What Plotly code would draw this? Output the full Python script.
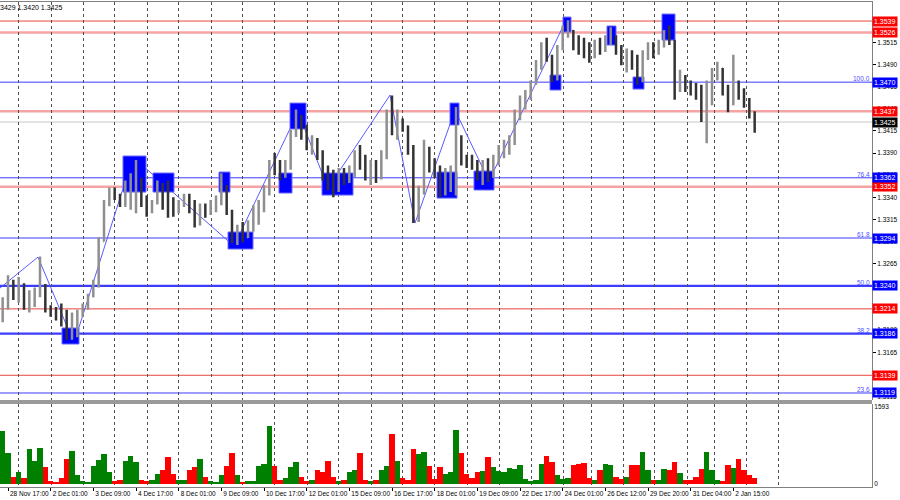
import plotly.graph_objects as go

# ---------------- data (4-hour candles, x = hourly bar index) ----------------
opens = [1.3215, 1.3222, 1.3245, 1.3230, 1.3240, 1.3220, 1.3228, 1.3232, 1.3240, 1.3215,
         1.3210, 1.3205, 1.3200, 1.3190, 1.3195, 1.3208, 1.3215, 1.3228, 1.3243, 1.3290,
         1.3332, 1.3345, 1.3340, 1.3335, 1.3352, 1.3355, 1.3360, 1.3340, 1.3325, 1.3333,
         1.3352, 1.3340, 1.3330, 1.3325, 1.3333, 1.3338, 1.3330, 1.3315, 1.3325, 1.3322,
         1.3330, 1.3335, 1.3345, 1.3322, 1.3295, 1.3300, 1.3295, 1.3310, 1.3320, 1.3330,
         1.3348, 1.3375, 1.3370, 1.3365, 1.3375, 1.3410, 1.3425, 1.3415, 1.3400, 1.3405,
         1.3390, 1.3365, 1.3355, 1.3350, 1.3360, 1.3358, 1.3365, 1.3385, 1.3380, 1.3365,
         1.3370, 1.3362, 1.3385, 1.3430, 1.3420, 1.3425, 1.3420, 1.3395, 1.3320, 1.3345,
         1.3395, 1.3375, 1.3368, 1.3355, 1.3360, 1.3365, 1.3395, 1.3385, 1.3380, 1.3378,
         1.3365, 1.3370, 1.3365, 1.3380, 1.3390, 1.3398, 1.3405, 1.3430, 1.3450, 1.3455,
         1.3468, 1.3488, 1.3505, 1.3498, 1.3480, 1.3508, 1.3525, 1.3528, 1.3515, 1.3510,
         1.3505, 1.3498, 1.3510, 1.3508, 1.3518, 1.3520, 1.3505, 1.3495, 1.3500, 1.3490,
         1.3480, 1.3502, 1.3510, 1.3505, 1.3512, 1.3522, 1.3515, 1.3465, 1.3470, 1.3465,
         1.3462, 1.3455, 1.3440, 1.3445, 1.3480, 1.3485, 1.3460, 1.3445, 1.3470, 1.3460,
         1.3448, 1.3435]
highs = [1.3227, 1.3252, 1.3247, 1.3250, 1.3243, 1.3235, 1.3238, 1.3273, 1.3242, 1.3218,
         1.3216, 1.3220, 1.3213, 1.3210, 1.3213, 1.3220, 1.3231, 1.3247, 1.3295, 1.3337,
         1.3351, 1.3351, 1.3344, 1.3359, 1.3367, 1.3382, 1.3362, 1.3342, 1.3337, 1.3359,
         1.3356, 1.3359, 1.3340, 1.3337, 1.3344, 1.3344, 1.3337, 1.3333, 1.3333, 1.3337,
         1.3342, 1.3367, 1.3354, 1.3326, 1.3309, 1.3312, 1.3314, 1.3331, 1.3337, 1.3354,
         1.3382, 1.3390, 1.3382, 1.3382, 1.3416, 1.3439, 1.3433, 1.3422, 1.3410, 1.3407,
         1.3393, 1.3376, 1.3371, 1.3373, 1.3373, 1.3376, 1.3393, 1.3399, 1.3388, 1.3382,
         1.3382, 1.3393, 1.3439, 1.3455, 1.3439, 1.3429, 1.3421, 1.3399, 1.3353, 1.3405,
         1.3397, 1.3384, 1.3376, 1.3373, 1.3376, 1.3442, 1.3410, 1.3388, 1.3388, 1.3382,
         1.3382, 1.3384, 1.3388, 1.3399, 1.3405, 1.3410, 1.3439, 1.3455, 1.3461, 1.3472,
         1.3495, 1.3515, 1.3520, 1.3501, 1.3512, 1.3534, 1.3540, 1.3529, 1.3523, 1.3520,
         1.3515, 1.3518, 1.3520, 1.3523, 1.3532, 1.3523, 1.3512, 1.3508, 1.3506, 1.3501,
         1.3506, 1.3515, 1.3515, 1.3518, 1.3529, 1.3534, 1.3518, 1.3484, 1.3478, 1.3472,
         1.3469, 1.3467, 1.3472, 1.3486, 1.3493, 1.3486, 1.3467, 1.3501, 1.3472, 1.3463,
         1.3452, 1.3437]
lows = [1.3199, 1.3213, 1.3224, 1.3221, 1.3213, 1.3210, 1.3216, 1.3227, 1.3210, 1.3205,
        1.3201, 1.3194, 1.3179, 1.3179, 1.3182, 1.3205, 1.3213, 1.3227, 1.3238, 1.3290,
        1.3330, 1.3337, 1.3329, 1.3329, 1.3326, 1.3322, 1.3329, 1.3318, 1.3322, 1.3332,
        1.3326, 1.3317, 1.3318, 1.3322, 1.3329, 1.3322, 1.3306, 1.3308, 1.3317, 1.3320,
        1.3323, 1.3331, 1.3320, 1.3288, 1.3286, 1.3289, 1.3294, 1.3301, 1.3309, 1.3323,
        1.3342, 1.3365, 1.3359, 1.3362, 1.3371, 1.3408, 1.3405, 1.3393, 1.3388, 1.3382,
        1.3359, 1.3348, 1.3340, 1.3346, 1.3354, 1.3356, 1.3363, 1.3371, 1.3359, 1.3354,
        1.3356, 1.3360, 1.3383, 1.3410, 1.3405, 1.3414, 1.3388, 1.3311, 1.3312, 1.3343,
        1.3368, 1.3362, 1.3340, 1.3342, 1.3346, 1.3342, 1.3376, 1.3373, 1.3371, 1.3359,
        1.3354, 1.3357, 1.3362, 1.3376, 1.3384, 1.3388, 1.3399, 1.3427, 1.3439, 1.3450,
        1.3467, 1.3484, 1.3493, 1.3470, 1.3472, 1.3506, 1.3520, 1.3506, 1.3501, 1.3497,
        1.3492, 1.3497, 1.3501, 1.3504, 1.3512, 1.3501, 1.3489, 1.3481, 1.3484, 1.3467,
        1.3470, 1.3495, 1.3497, 1.3501, 1.3509, 1.3512, 1.3450, 1.3459, 1.3459, 1.3455,
        1.3450, 1.3425, 1.3401, 1.3444, 1.3472, 1.3455, 1.3436, 1.3444, 1.3450, 1.3441,
        1.3429, 1.3413]
closes = [1.3222, 1.3245, 1.3230, 1.3240, 1.3220, 1.3228, 1.3232, 1.3240, 1.3215, 1.3210,
          1.3205, 1.3200, 1.3190, 1.3195, 1.3208, 1.3215, 1.3228, 1.3243, 1.3290, 1.3332,
          1.3345, 1.3340, 1.3335, 1.3352, 1.3355, 1.3360, 1.3340, 1.3325, 1.3333, 1.3352,
          1.3340, 1.3330, 1.3325, 1.3333, 1.3338, 1.3330, 1.3315, 1.3325, 1.3322, 1.3330,
          1.3335, 1.3345, 1.3322, 1.3295, 1.3300, 1.3295, 1.3310, 1.3320, 1.3330, 1.3348,
          1.3375, 1.3370, 1.3365, 1.3375, 1.3410, 1.3425, 1.3415, 1.3400, 1.3405, 1.3390,
          1.3365, 1.3355, 1.3350, 1.3360, 1.3358, 1.3365, 1.3385, 1.3380, 1.3365, 1.3370,
          1.3362, 1.3385, 1.3430, 1.3420, 1.3425, 1.3420, 1.3395, 1.3320, 1.3345, 1.3395,
          1.3375, 1.3368, 1.3355, 1.3360, 1.3365, 1.3395, 1.3385, 1.3380, 1.3378, 1.3365,
          1.3370, 1.3365, 1.3380, 1.3390, 1.3398, 1.3405, 1.3430, 1.3450, 1.3455, 1.3468,
          1.3488, 1.3505, 1.3498, 1.3480, 1.3508, 1.3525, 1.3528, 1.3515, 1.3510, 1.3505,
          1.3498, 1.3510, 1.3508, 1.3518, 1.3520, 1.3505, 1.3495, 1.3500, 1.3490, 1.3480,
          1.3502, 1.3510, 1.3505, 1.3512, 1.3522, 1.3515, 1.3465, 1.3470, 1.3465, 1.3462,
          1.3455, 1.3440, 1.3445, 1.3480, 1.3485, 1.3460, 1.3445, 1.3470, 1.3460, 1.3448,
          1.3435, 1.3425]
volumes = [1100, 650, 150, 250, 120, 730, 480, 750, 350, 60,
           50, 120, 520, 680, 180, 60, 50, 380, 500, 620,
           250, 60, 80, 480, 580, 450, 80, 60, 80, 210,
           300, 550, 210, 80, 80, 280, 350, 520, 150, 60,
           50, 180, 380, 650, 180, 50, 60, 60, 380, 410,
           1200, 380, 80, 120, 350, 450, 150, 60, 80, 300,
           250, 480, 150, 60, 80, 250, 280, 650, 80, 60,
           90, 300, 370, 1040, 470, 130, 80, 730, 630, 660,
           370, 100, 350, 200, 250, 1120, 650, 200, 120, 250,
           270, 560, 350, 270, 250, 340, 320, 390, 100, 70,
           90, 420, 570, 450, 190, 100, 120, 390, 420, 430,
           120, 90, 290, 410, 390, 140, 100, 140, 390, 390,
           670, 290, 90, 90, 320, 290, 450, 220, 90, 90,
           140, 320, 670, 290, 90, 70, 390, 340, 520, 290,
           190, 120]

time_labels = ["28 Nov 17:00", "2 Dec 01:00", "3 Dec 09:00", "4 Dec 17:00", "8 Dec 01:00",
               "9 Dec 09:00", "10 Dec 17:00", "12 Dec 01:00", "15 Dec 09:00", "16 Dec 17:00",
               "18 Dec 01:00", "19 Dec 09:00", "22 Dec 17:00", "24 Dec 01:00", "26 Dec 12:00",
               "29 Dec 20:00", "31 Dec 04:00", "2 Jan 15:00"]
time_label_bars = [6, 38, 70, 102, 134, 166, 198, 230, 262, 294, 326, 358, 390, 422, 454, 486, 518, 550]
day_break_bars = [13.5, 38.25, 62.25, 85.5, 110.25, 133.5, 158.25, 181.5, 205.5, 230.25, 253.5,
                  278.25, 301.5, 325.5, 350.25, 374.25, 398.25, 422.25, 443.25, 467.25, 490.5,
                  515.25, 535.5, 559.5, 583.5]

price_ticks = [1.3115, 1.3140, 1.3165, 1.3190, 1.3215, 1.3240, 1.3265, 1.3290, 1.3315,
               1.3340, 1.3365, 1.3390, 1.3415, 1.3440, 1.3465, 1.3490, 1.3515]
volume_ticks = [0, 1593]

red_levels = [1.3539, 1.3526, 1.3437, 1.3352, 1.3214, 1.3139]
fib_levels = [1.3470, 1.3362, 1.3294, 1.3240, 1.3186, 1.3119]
fib_names = ["100.0", "76.4", "61.8", "50.0", "38.2", "23.6"]
last_price = 1.3425
ohlc_text = "3429 1.3420 1.3425"

zone_x0 = [46.5, 92.25, 114.75, 164.25, 171, 209.25, 217.5, 241.5, 327.75, 337.5, 355.5,
           412.5, 422.25, 455.25, 474.75, 496.5]
zone_x1 = [59.25, 109.5, 130.5, 172.5, 189.75, 219, 229.5, 264.75, 342.75, 344.25, 370.5,
           420.75, 428.25, 462, 483, 506.25]
zone_lo = [1.31743, 1.33459, 1.33459, 1.33459, 1.32816, 1.33448, 1.34171, 1.33425, 1.33391,
           1.34216, 1.33482, 1.34611, 1.35266, 1.35119, 1.34622, 1.35175]
zone_hi = [1.31924, 1.33866, 1.33674, 1.33685, 1.33008, 1.33674, 1.34464, 1.33674, 1.33685,
           1.34464, 1.33696, 1.34780, 1.35435, 1.35334, 1.34758, 1.35469]

zigzag_x = [0, 28.5, 55.5, 99.75, 175.5, 223.5, 246, 292.5, 311.25, 341.25, 366.75, 424.5]
zigzag_y = [1.32375, 1.32725, 1.31754, 1.33854, 1.32848, 1.34363, 1.33504, 1.34554,
            1.33109, 1.34385, 1.33583, 1.35401]

# ---------------- styles ----------------
red_colors = ["#e8473f", "#f6a3a3", "#f6a3a3", "#f6a3a3", "#e8473f", "#e8473f"]
red_widths = [1, 2.5, 2.5, 2.5, 1, 1]
fib_widths = [1, 1, 1, 2.2, 2.2, 1]
BLUE = "#3c3cff"
FONT = "Liberation Sans"

bar_x = [4 * i + 2 for i in range(len(opens))]
vol_colors = ["#008000" if c >= o else "#ff0000" for o, c in zip(opens, closes)]

fig = go.Figure()
fig.add_trace(go.Ohlc(
    x=bar_x, open=opens, high=highs, low=lows, close=closes,
    xaxis="x2", yaxis="y", tickwidth=0.12,
    increasing=dict(line=dict(color="#8f8f8f", width=2.5)),
    decreasing=dict(line=dict(color="#333333", width=2.5)),
    showlegend=False, hoverinfo="skip"))
fig.add_trace(go.Bar(
    x=bar_x, y=volumes, width=4, marker=dict(color=vol_colors, line=dict(width=0)),
    xaxis="x", yaxis="y2", showlegend=False, hoverinfo="skip"))

shapes = []
# zigzag (drawn beneath the zones)
for k in range(len(zigzag_x) - 1):
    shapes.append(dict(type="line", xref="x2", yref="y", layer="between",
                       x0=zigzag_x[k], y0=zigzag_y[k], x1=zigzag_x[k + 1], y1=zigzag_y[k + 1],
                       line=dict(color="#5a5aff", width=1)))
# horizontal levels
for lvl, col, w in zip(red_levels, red_colors, red_widths):
    shapes.append(dict(type="line", xref="paper", yref="y", layer="between",
                       x0=0, x1=1, y0=lvl, y1=lvl, line=dict(color=col, width=w)))
for lvl, w in zip(fib_levels, fib_widths):
    shapes.append(dict(type="line", xref="paper", yref="y", layer="between",
                       x0=0, x1=1, y0=lvl, y1=lvl, line=dict(color=BLUE, width=w)))
shapes.append(dict(type="line", xref="paper", yref="y", layer="between",
                   x0=0, x1=1, y0=last_price, y1=last_price, line=dict(color="#c8c8c8", width=1)))
# zones
for a, b, lo, hi in zip(zone_x0, zone_x1, zone_lo, zone_hi):
    shapes.append(dict(type="rect", xref="x2", yref="y", layer="between",
                       x0=a, x1=b, y0=lo, y1=hi, fillcolor="#0000ff",
                       line=dict(color="#6a6aff", width=1)))
# pane separator
shapes.append(dict(type="rect", xref="paper", yref="paper", x0=0, x1=1, y0=0.1711, y1=0.1794,
                   fillcolor="#9a9a9a", line=dict(width=0), layer="above"))

annotations = []
def price_box(lvl, color):
    return dict(x=1, xref="paper", y=lvl, yref="y", xanchor="left", xshift=0,
                text=f"{lvl:.4f}", showarrow=False, bgcolor=color, borderpad=1,
                font=dict(family=FONT, size=7, color="white"))

for lvl in red_levels:
    annotations.append(price_box(lvl, "#ff0000"))
for lvl, name in zip(fib_levels, fib_names):
    annotations.append(price_box(lvl, "#0000ff"))
    annotations.append(dict(x=1, xref="paper", y=lvl, yref="y", xanchor="right", yanchor="bottom",
                            yshift=-2, text=name, showarrow=False,
                            font=dict(family=FONT, size=6.5, color="#5050ff")))
annotations.append(price_box(last_price, "#000000"))
annotations.append(dict(x=0, xref="paper", y=1, yref="paper", xanchor="left", yanchor="top",
                        xshift=-2, yshift=0, text=ohlc_text, showarrow=False,
                        font=dict(family=FONT, size=7, color="#000000")))

grid_minor = dict(tickmode="array", tickvals=day_break_bars, showgrid=True, griddash="3px,3px",
                  gridcolor="#505050", gridwidth=1, ticks="")

fig.update_layout(
    width=900, height=500,
    margin=dict(l=0, r=28, t=2, b=13, autoexpand=False),
    paper_bgcolor="white", plot_bgcolor="white",
    font=dict(family=FONT, size=7, color="black"),
    bargap=0, showlegend=False,
    shapes=shapes, annotations=annotations,
    xaxis=dict(domain=[0, 1], anchor="y2", range=[0, 654], tickmode="array",
               tickvals=time_label_bars, ticktext=time_labels, ticks="outside", ticklen=3,
               tickcolor="black", ticklabelposition="outside right", tickangle=0,
               ticklabelstandoff=0, ticklabelshift=1, showgrid=False, automargin=False,
               minor=grid_minor, showline=True, linecolor="#808080", linewidth=1,
               zeroline=False, rangeslider=dict(visible=False),
               tickfont=dict(family=FONT, size=6.5)),
    xaxis2=dict(anchor="y", matches="x", side="top", showticklabels=False, ticks="",
                showgrid=False, minor=grid_minor, showline=True, linecolor="#808080",
                linewidth=1, zeroline=False, automargin=False, rangeslider=dict(visible=False)),
    yaxis=dict(domain=[0.1794, 1], range=[1.31111, 1.35605], side="right", tickmode="array",
               tickvals=price_ticks, ticktext=[f"{v:.4f}" for v in price_ticks],
               ticks="outside", ticklen=3, tickcolor="black", showgrid=False, zeroline=False,
               showline=True, linecolor="#808080", linewidth=1, automargin=False,
               tickfont=dict(family=FONT, size=6.5)),
    yaxis2=dict(domain=[0, 0.1711], range=[-62, 1655], side="right", tickmode="array",
                tickvals=volume_ticks, ticktext=[str(v) for v in volume_ticks], ticks="",
                showgrid=False, zeroline=False, showline=True, linecolor="#808080",
                linewidth=1, automargin=False, tickfont=dict(family=FONT, size=6.5)),
)

fig.write_html("out.html", config={"displayModeBar": False, "staticPlot": True},
               post_script="document.body.style.margin='0';document.body.style.overflow='hidden';")
